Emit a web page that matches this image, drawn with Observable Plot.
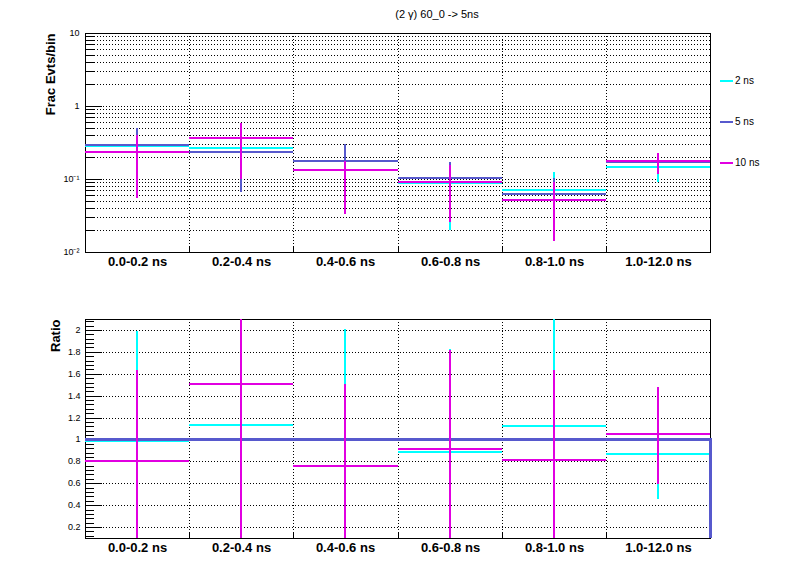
<!DOCTYPE html>
<html><head><meta charset="utf-8">
<script src="https://cdn.jsdelivr.net/npm/d3@7"></script>
<script src="https://cdn.jsdelivr.net/npm/@observablehq/plot@0.6"></script>
<style>
body{margin:0;background:#fff;font-family:"Liberation Sans",Arial,Helvetica,sans-serif;}
#wrap{position:relative;width:796px;height:572px;overflow:hidden;background:#fff;}
.abs{position:absolute;}
#title{left:0;width:874px;top:8px;text-align:center;font-size:11px;line-height:13px;color:#000;}
.legline{position:absolute;width:13px;height:2px;}
.legtxt{position:absolute;font-size:10px;line-height:12px;color:#000;}
</style></head>
<body><div id="wrap">
<div id="top" class="abs" style="left:0;top:0"></div>
<div id="bot" class="abs" style="left:0;top:286px"></div>
<div id="title" class="abs">(2 γ) 60_0 -&gt; 5ns</div>
<div id="legend"></div>
</div>
<script>
// ---- data ----
const bins = ["0.0-0.2 ns", "0.2-0.4 ns", "0.4-0.6 ns", "0.6-0.8 ns", "0.8-1.0 ns", "1.0-12.0 ns"];
const seriesNames = ["2 ns", "5 ns", "10 ns"];
const seriesColors = ["#00ffff", "#5759cd", "#e100e1"];

// top panel: fraction of events per bin, with error-bar bounds
const frac2   = [0.279, 0.268, 0.176, 0.089, 0.0715, 0.146];
const frac2Lo = [0.08, 0.08, 0.06, 0.020, 0.020, 0.092];
const frac2Hi = [0.47, 0.46, 0.29, 0.155, 0.123, 0.200];
const frac5   = [0.291, 0.236, 0.176, 0.102, 0.063, 0.171];
const frac5Lo = [0.08, 0.067, 0.055, 0.035, 0.022, 0.126];
const frac5Hi = [0.50, 0.40, 0.297, 0.169, 0.104, 0.216];
const frac10   = [0.236, 0.359, 0.134, 0.092, 0.052, 0.178];
const frac10Lo = [0.0556, 0.100, 0.0336, 0.0261, 0.0140, 0.116];
const frac10Hi = [0.398, 0.594, 0.178, 0.155, 0.090, 0.226];

// bottom panel: ratio to 5 ns
const ratio2   = [0.983, 1.135, 1.0, 0.889, 1.12, 0.864];
const ratio2Lo = [0.0, 0.30, 0.0, 0.0, 0.0, 0.458];
const ratio2Hi = [1.99, 1.97, 2.006, 1.827, 2.25, 1.27];
const ratio5   = [1, 1, 1, 1, 1, 1];
const ratio10   = [0.807, 1.51, 0.755, 0.91, 0.816, 1.047];
const ratio10Lo = [0.0, 0.05, 0.0, 0.0, 0.0, 0.595];
const ratio10Hi = [1.636, 2.95, 1.508, 1.818, 1.636, 1.478];

// tick labels
const logTickLabels = {"0.01": "10⁻²", "0.1": "10⁻¹", "1": "1", "10": "10"};
const topYLabel = "Frac Evts/bin";
const botYLabel = "Ratio";

// ---- layout ----
const W = 796, H = 286, ML = 85, MR = 86, MT = 33, MB = 34;
const PW = W - ML - MR, PH = H - MT - MB;
const FONT = "'Liberation Sans', Arial, Helvetica, sans-serif";
const edges = d3.range(1, bins.length);
const centers = bins.map((d, i) => i + 0.5);
const dotted = {stroke: "black", strokeWidth: 1, strokeDasharray: "1,2"};
const crisp = "crispEdges";

function seriesMarks(vals, lo, hi, color, hw, vw) {
  const rows = vals.map((v, i) => ({i, v, lo: lo ? lo[i] : v, hi: hi ? hi[i] : v}));
  const m = [Plot.ruleY(rows, {x1: d => d.i, x2: d => d.i + 1, y: "v", stroke: color, strokeWidth: hw,
    dy: hw % 2 === 0 ? -0.5 : 0, clip: true, shapeRendering: crisp})];
  if (lo) m.push(Plot.ruleX(rows, {x: d => d.i + 0.5, y1: "lo", y2: "hi", stroke: color, strokeWidth: vw,
    dx: vw % 2 === 0 ? -0.5 : 0, clip: true, shapeRendering: crisp}));
  return m;
}

function commonX() {
  return [
    Plot.axisX({ticks: centers, tickSize: 0, tickPadding: 4, label: null,
      tickFormat: d => bins[Math.floor(d)], fontSize: 13, fontWeight: "bold", fill: "black"})
  ];
}

// ---- top panel ----
const logMajor = [0.01, 0.1, 1, 10];
const logMinor = [];
for (const dec of [0.01, 0.1, 1]) for (let k = 2; k <= 9; k++) logMinor.push(+(dec * k).toPrecision(2));

const topPlot = Plot.plot({
  width: W, height: H, marginLeft: ML, marginRight: MR, marginTop: MT, marginBottom: MB,
  style: {background: "transparent", fontFamily: FONT, overflow: "visible"},
  x: {domain: [0, bins.length], axis: null, label: null, round: true},
  y: {type: "log", domain: [0.01, 10], axis: null, label: null, round: true},
  marks: [
    Plot.ruleY(logMinor.concat([0.1, 1]), {...dotted, shapeRendering: crisp}),
    Plot.ruleX(edges, {...dotted, shapeRendering: crisp}),
    Plot.ruleY(logMajor, {stroke: "black", insetRight: PW - 17, shapeRendering: crisp}),
    Plot.ruleY(logMinor, {stroke: "black", insetRight: PW - 9, shapeRendering: crisp}),
    Plot.ruleX(edges, {stroke: "black", insetTop: PH - 6, shapeRendering: crisp}),
    Plot.frame({stroke: "black", shapeRendering: crisp}),
    ...seriesMarks(frac2, frac2Lo, frac2Hi, seriesColors[0], 2, 2),
    ...seriesMarks(frac5, frac5Lo, frac5Hi, seriesColors[1], 2, 2),
    ...seriesMarks(frac10, frac10Lo, frac10Hi, seriesColors[2], 2, 2),
    Plot.axisY({ticks: logMajor, tickSize: 0, tickPadding: 6, label: null,
      tickFormat: d => logTickLabels[String(d)], fontSize: 9, fill: "black"}),
    ...commonX(),
    Plot.text([topYLabel], {text: d => d, frameAnchor: "top-left", rotate: -90, textAnchor: "end",
      lineAnchor: "middle", dx: -35, fontSize: 13, fontWeight: "bold", fill: "black"})
  ]
});
document.getElementById("top").appendChild(topPlot);

// ---- bottom panel ----
const ratioDomain = [0.1, 2.1];
const ratioMajor = d3.range(1, 11).map(k => +(k * 0.2).toFixed(2));
const ratioMinor = d3.range(3, 53).filter(k => k % 5 !== 0).map(k => +(k * 0.04).toFixed(2));
const lastIdx = ratio5.length - 1;

const botPlot = Plot.plot({
  width: W, height: H, marginLeft: ML, marginRight: MR, marginTop: MT, marginBottom: MB,
  style: {background: "transparent", fontFamily: FONT, overflow: "visible"},
  x: {domain: [0, bins.length], axis: null, label: null, round: true},
  y: {domain: ratioDomain, axis: null, label: null, round: true},
  marks: [
    Plot.ruleY(ratioMajor, {...dotted, shapeRendering: crisp}),
    Plot.ruleX(edges, {...dotted, shapeRendering: crisp}),
    Plot.ruleY(ratioMajor, {stroke: "black", insetRight: PW - 17, shapeRendering: crisp}),
    Plot.ruleY(ratioMinor, {stroke: "black", insetRight: PW - 9, shapeRendering: crisp}),
    Plot.ruleX(edges, {stroke: "black", insetTop: PH - 6, shapeRendering: crisp}),
    Plot.frame({stroke: "black", shapeRendering: crisp}),
    ...seriesMarks(ratio2, ratio2Lo, ratio2Hi, seriesColors[0], 2, 2),
    ...seriesMarks(ratio5, null, null, seriesColors[1], 3, 3),
    Plot.ruleX([lastIdx], {x: d => d + 1, y1: () => ratioDomain[0], y2: d => ratio5[d] + 0.012,
      stroke: seriesColors[1], strokeWidth: 3, shapeRendering: crisp}),
    ...seriesMarks(ratio10, ratio10Lo, ratio10Hi, seriesColors[2], 2, 2),
    Plot.axisY({ticks: ratioMajor, tickSize: 0, tickPadding: 5, label: null,
      tickFormat: d => String(+(+d).toFixed(1)), fontSize: 9, fill: "black"}),
    ...commonX(),
    Plot.text([botYLabel], {text: d => d, frameAnchor: "top-left", rotate: -90, textAnchor: "end",
      lineAnchor: "middle", dx: -30, fontSize: 13, fontWeight: "bold", fill: "black"})
  ]
});
document.getElementById("bot").appendChild(botPlot);

// ---- legend ----
const legend = document.getElementById("legend");
const legY = [81, 122, 163];
seriesNames.forEach((name, i) => {
  const ln = document.createElement("div");
  ln.className = "legline";
  ln.style.left = "720px"; ln.style.top = (legY[i] - 1) + "px"; ln.style.background = seriesColors[i];
  legend.appendChild(ln);
  const tx = document.createElement("div");
  tx.className = "legtxt";
  tx.style.left = "735px"; tx.style.top = (legY[i] - 6) + "px";
  tx.textContent = name;
  legend.appendChild(tx);
});
</script>
</body></html>
